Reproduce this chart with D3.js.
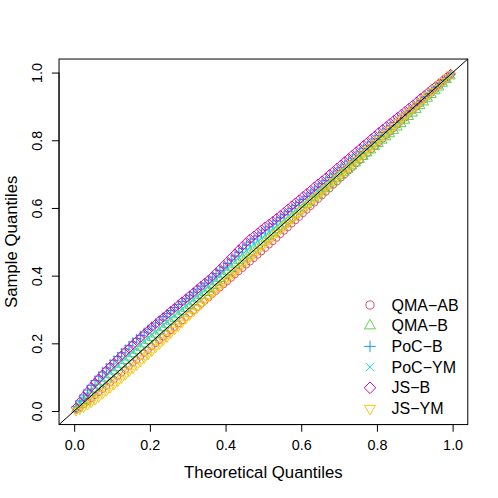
<!DOCTYPE html>
<html>
<head>
<meta charset="utf-8">
<script src="https://cdn.jsdelivr.net/npm/d3@7"></script>
<style>
  body { margin: 0; background: #fff; }
  svg { display: block; font-family: "Liberation Sans", Arial, sans-serif; }
</style>
</head>
<body>
<script>
// theoretical uniform quantiles (x) shared by every series
const theoretical = [
  0.005,0.015,0.025,0.035,0.045,0.055,0.065,0.075,0.085,0.095,
  0.105,0.115,0.125,0.135,0.145,0.155,0.165,0.175,0.185,0.195,
  0.205,0.215,0.225,0.235,0.245,0.255,0.265,0.275,0.285,0.295,
  0.305,0.315,0.325,0.335,0.345,0.355,0.365,0.375,0.385,0.395,
  0.405,0.415,0.425,0.435,0.445,0.455,0.465,0.475,0.485,0.495,
  0.505,0.515,0.525,0.535,0.545,0.555,0.565,0.575,0.585,0.595,
  0.605,0.615,0.625,0.635,0.645,0.655,0.665,0.675,0.685,0.695,
  0.705,0.715,0.725,0.735,0.745,0.755,0.765,0.775,0.785,0.795,
  0.805,0.815,0.825,0.835,0.845,0.855,0.865,0.875,0.885,0.895,
  0.905,0.915,0.925,0.935,0.945,0.955,0.965,0.975,0.985,0.995
];

// sample quantiles, one array per method
const qmaAB = [
  0.003,0.011,0.019,0.028,0.037,0.046,0.055,0.065,0.074,0.084,
  0.093,0.103,0.113,0.122,0.132,0.142,0.151,0.161,0.171,0.180,
  0.190,0.200,0.209,0.219,0.229,0.238,0.248,0.258,0.267,0.277,
  0.287,0.296,0.306,0.316,0.325,0.335,0.345,0.354,0.364,0.374,
  0.383,0.393,0.403,0.412,0.422,0.432,0.441,0.451,0.461,0.471,
  0.481,0.491,0.501,0.511,0.522,0.532,0.542,0.553,0.563,0.573,
  0.584,0.594,0.605,0.615,0.626,0.636,0.647,0.657,0.668,0.678,
  0.689,0.699,0.710,0.720,0.731,0.741,0.752,0.762,0.773,0.783,
  0.794,0.804,0.815,0.825,0.836,0.846,0.857,0.867,0.878,0.888,
  0.899,0.909,0.920,0.930,0.941,0.951,0.962,0.972,0.983,0.993
];
const qmaB = [
  0.005,0.018,0.030,0.042,0.053,0.064,0.075,0.085,0.096,0.106,
  0.117,0.127,0.137,0.148,0.158,0.168,0.178,0.187,0.197,0.207,
  0.216,0.226,0.235,0.245,0.254,0.264,0.273,0.283,0.292,0.302,
  0.311,0.321,0.330,0.340,0.349,0.359,0.369,0.380,0.390,0.401,
  0.411,0.422,0.432,0.443,0.453,0.462,0.471,0.480,0.489,0.498,
  0.507,0.516,0.525,0.534,0.543,0.552,0.562,0.571,0.580,0.590,
  0.599,0.609,0.618,0.628,0.637,0.647,0.656,0.666,0.675,0.685,
  0.694,0.704,0.713,0.723,0.732,0.742,0.751,0.761,0.770,0.780,
  0.789,0.799,0.809,0.818,0.828,0.838,0.848,0.858,0.869,0.879,
  0.890,0.901,0.912,0.923,0.934,0.945,0.956,0.967,0.978,0.989
];
const pocB = [
  0.013,0.030,0.047,0.062,0.076,0.090,0.103,0.115,0.127,0.139,
  0.150,0.161,0.172,0.183,0.193,0.204,0.214,0.223,0.233,0.242,
  0.251,0.260,0.269,0.279,0.288,0.297,0.306,0.315,0.324,0.333,
  0.342,0.351,0.360,0.369,0.378,0.387,0.396,0.406,0.415,0.425,
  0.436,0.447,0.458,0.469,0.480,0.490,0.499,0.508,0.517,0.526,
  0.535,0.544,0.553,0.562,0.571,0.580,0.589,0.598,0.607,0.616,
  0.625,0.634,0.644,0.653,0.662,0.672,0.681,0.690,0.700,0.709,
  0.719,0.728,0.738,0.747,0.757,0.766,0.776,0.785,0.795,0.804,
  0.814,0.823,0.833,0.842,0.852,0.861,0.871,0.880,0.890,0.899,
  0.909,0.918,0.928,0.937,0.947,0.956,0.966,0.975,0.985,0.994
];
const pocYM = [
  0.007,0.021,0.034,0.046,0.058,0.069,0.080,0.091,0.102,0.112,
  0.123,0.133,0.144,0.154,0.165,0.175,0.185,0.196,0.206,0.216,
  0.225,0.235,0.244,0.254,0.263,0.273,0.282,0.292,0.301,0.311,
  0.320,0.330,0.339,0.349,0.358,0.368,0.378,0.389,0.399,0.410,
  0.421,0.432,0.443,0.453,0.464,0.474,0.483,0.492,0.501,0.510,
  0.519,0.528,0.537,0.547,0.556,0.566,0.575,0.585,0.594,0.604,
  0.614,0.623,0.633,0.643,0.652,0.662,0.672,0.681,0.691,0.701,
  0.710,0.720,0.730,0.739,0.749,0.759,0.768,0.778,0.788,0.797,
  0.807,0.817,0.826,0.836,0.846,0.855,0.865,0.875,0.884,0.894,
  0.904,0.913,0.923,0.933,0.943,0.952,0.962,0.972,0.981,0.991
];
const jsB = [
  0.010,0.027,0.043,0.057,0.071,0.084,0.096,0.108,0.120,0.131,
  0.142,0.153,0.164,0.175,0.185,0.196,0.207,0.217,0.228,0.238,
  0.248,0.257,0.267,0.276,0.285,0.295,0.304,0.313,0.323,0.332,
  0.341,0.350,0.360,0.369,0.379,0.388,0.398,0.409,0.420,0.431,
  0.442,0.454,0.465,0.477,0.488,0.499,0.509,0.518,0.527,0.536,
  0.545,0.553,0.561,0.570,0.579,0.588,0.598,0.607,0.616,0.625,
  0.635,0.644,0.653,0.663,0.672,0.681,0.690,0.700,0.709,0.719,
  0.728,0.738,0.747,0.757,0.767,0.776,0.786,0.795,0.805,0.814,
  0.824,0.833,0.842,0.851,0.860,0.869,0.878,0.887,0.896,0.905,
  0.914,0.924,0.933,0.942,0.951,0.960,0.969,0.978,0.987,0.996
];
const jsYM = [
  0.000,0.005,0.011,0.018,0.025,0.033,0.041,0.050,0.059,0.068,
  0.077,0.087,0.096,0.106,0.116,0.125,0.135,0.145,0.156,0.166,
  0.176,0.187,0.197,0.208,0.218,0.229,0.240,0.250,0.261,0.272,
  0.283,0.293,0.304,0.315,0.326,0.337,0.348,0.358,0.369,0.380,
  0.390,0.401,0.412,0.422,0.433,0.443,0.454,0.464,0.474,0.485,
  0.495,0.505,0.515,0.526,0.536,0.546,0.556,0.567,0.577,0.587,
  0.597,0.608,0.618,0.628,0.638,0.649,0.659,0.669,0.679,0.690,
  0.700,0.710,0.720,0.730,0.741,0.751,0.761,0.771,0.781,0.792,
  0.802,0.812,0.822,0.832,0.842,0.853,0.863,0.873,0.883,0.893,
  0.903,0.914,0.924,0.934,0.944,0.954,0.965,0.975,0.985,0.995
];

const seriesNames = ["QMA\u2212AB", "QMA\u2212B", "PoC\u2212B", "PoC\u2212YM", "JS\u2212B", "JS\u2212YM"];
const seriesValues = [qmaAB, qmaB, pocB, pocYM, jsB, jsYM];
const seriesColors = ["#DF536B", "#61D04F", "#2297E6", "#28E2E5", "#CD0BBC", "#F5C710"];
const seriesShapes = ["circle", "triangle", "plus", "cross", "diamond", "triangleDown"];
const tickValues = [0, 0.2, 0.4, 0.6, 0.8, 1.0];

const width = 498,
  height = 498,
  margin = { top: 59.04, right: 30.24, bottom: 73.44, left: 59.04 },
  pointSize = 3.3,
  legendPointSize = 4.1;

// R style marker paths, s is the base radius
function markerPath(shape, s) {
  const p = d3.path();
  if (shape === "circle") {
    p.moveTo(s, 0);
    p.arc(0, 0, s, 0, 2 * Math.PI);
  } else if (shape === "triangle" || shape === "triangleDown") {
    const r = 1.5551 * s, dir = shape === "triangle" ? -1 : 1;
    p.moveTo(0, dir * r);
    p.lineTo(r * 0.866, -dir * r * 0.5);
    p.lineTo(-r * 0.866, -dir * r * 0.5);
    p.closePath();
  } else if (shape === "plus") {
    const r = Math.SQRT2 * s;
    p.moveTo(-r, 0); p.lineTo(r, 0);
    p.moveTo(0, -r); p.lineTo(0, r);
  } else if (shape === "cross") {
    p.moveTo(-s, -s); p.lineTo(s, s);
    p.moveTo(-s, s); p.lineTo(s, -s);
  } else if (shape === "diamond") {
    const r = Math.SQRT2 * s;
    p.moveTo(0, -r); p.lineTo(r, 0); p.lineTo(0, r); p.lineTo(-r, 0);
    p.closePath();
  }
  return p.toString();
}

const svg = d3.select("body")
  .append("svg")
  .attr("width", width)
  .attr("height", height);

const x = d3.scaleLinear()
  .domain([-0.04, 1.04])
  .range([margin.left, width - margin.right]);
const y = d3.scaleLinear()
  .domain([-0.04, 1.04])
  .range([height - margin.bottom, margin.top]);

// points
seriesValues.forEach((vals, si) => {
  svg.append("g")
    .attr("fill", "none")
    .attr("stroke", seriesColors[si])
    .attr("stroke-width", 1)
    .selectAll("path")
    .data(vals)
    .join("path")
    .attr("transform", (d, i) => `translate(${x(theoretical[i])},${y(d)})`)
    .attr("d", markerPath(seriesShapes[si], pointSize));
});

// y = x reference line, clipped to the plot region
svg.append("line")
  .attr("x1", x(-0.04)).attr("y1", y(-0.04))
  .attr("x2", x(1.04)).attr("y2", y(1.04))
  .attr("stroke", "#000")
  .attr("stroke-width", 1);

// axes
const xAxis = svg.append("g")
  .attr("transform", `translate(0,${height - margin.bottom})`)
  .call(d3.axisBottom(x).tickValues(tickValues).tickFormat(d3.format(".1f"))
    .tickSize(7.2).tickSizeOuter(0).tickPadding(8.5));
xAxis.select(".domain").remove();
xAxis.selectAll("line").attr("stroke", "#000");
xAxis.selectAll("text").attr("fill", "#000").attr("font-size", 14.4)
  .attr("font-family", "Liberation Sans, Arial, sans-serif");

const yAxis = svg.append("g")
  .attr("transform", `translate(${margin.left},0)`)
  .call(d3.axisLeft(y).tickValues(tickValues).tickFormat(d3.format(".1f"))
    .tickSize(7.2).tickSizeOuter(0));
yAxis.select(".domain").remove();
yAxis.selectAll("line").attr("stroke", "#000");
yAxis.selectAll("text")
  .attr("x", null).attr("dy", null)
  .attr("text-anchor", "middle")
  .attr("transform", "translate(-17,0) rotate(-90)")
  .attr("fill", "#000").attr("font-size", 14.4)
  .attr("font-family", "Liberation Sans, Arial, sans-serif");

// axis line from first to last tick, like R
svg.append("line")
  .attr("x1", x(0)).attr("x2", x(1))
  .attr("y1", height - margin.bottom).attr("y2", height - margin.bottom)
  .attr("stroke", "#000");
svg.append("line")
  .attr("x1", margin.left).attr("x2", margin.left)
  .attr("y1", y(0)).attr("y2", y(1))
  .attr("stroke", "#000");

// plot box
svg.append("rect")
  .attr("x", margin.left).attr("y", margin.top)
  .attr("width", width - margin.left - margin.right)
  .attr("height", height - margin.top - margin.bottom)
  .attr("fill", "none")
  .attr("stroke", "#000");

// axis titles
svg.append("text")
  .attr("x", (margin.left + width - margin.right) / 2)
  .attr("y", 478)
  .attr("text-anchor", "middle")
  .attr("font-size", 16.8)
  .text("Theoretical Quantiles");

svg.append("text")
  .attr("transform", `translate(17,${(margin.top + height - margin.bottom) / 2}) rotate(-90)`)
  .attr("text-anchor", "middle")
  .attr("font-size", 16.8)
  .text("Sample Quantiles");

// legend (no box)
const legend = svg.append("g");
const legendRows = legend.selectAll("g")
  .data(seriesNames)
  .join("g")
  .attr("transform", (d, i) => `translate(370,${305 + i * 20.7})`);
legendRows.append("path")
  .attr("d", (d, i) => markerPath(seriesShapes[i], legendPointSize))
  .attr("fill", "none")
  .attr("stroke", (d, i) => seriesColors[i]);
legendRows.append("text")
  .attr("x", 21.5)
  .attr("y", 5.6)
  .attr("font-size", 16)
  .text((d) => d);
</script>
</body>
</html>
